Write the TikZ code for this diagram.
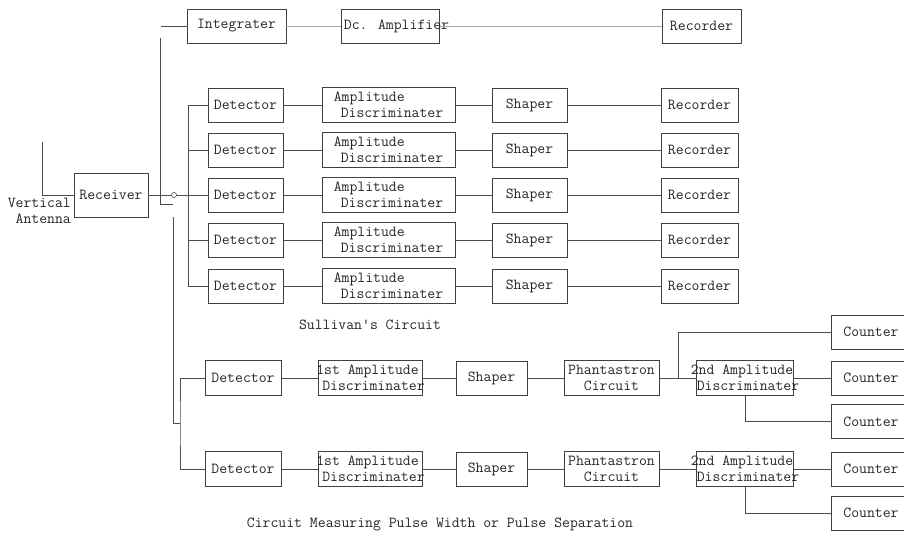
\documentclass[tikz,border=0pt]{standalone}
\usepackage{fontspec}

\tikzset{
  blk/.style={draw=black!75, line width=0.6pt, rectangle, inner sep=0pt,
    minimum height=34pt, text=black!85,
    font=\ttfamily\fontsize{15.3}{15.5}\selectfont},
  lbl/.style={inner sep=0pt, text=black!85,
    font=\ttfamily\fontsize{15.3}{15.5}\selectfont},
  wire/.style={draw=black!70, line width=0.6pt},
  faint/.style={draw=black!35, line width=0.6pt},
}

\begin{document}
\begin{tikzpicture}[x=1pt, y=-1pt]

	\clip (0,0) rectangle (904,535);
	\fill[white] (0,0) rectangle (904,535);

	% Column positions
	\def\detx{245.5}
	\def\ampx{388.5}
	\def\shpx{529.5}
	\def\recx{699.5}

	% Receiver and antenna
	\node[blk, minimum width=74pt, minimum height=44pt] (recv) at (111,195) {Receiver};
	\coordinate (ant) at (42,142);
	\draw[wire] (ant) |- (recv.west);
	\node[lbl, align=right, anchor=east] (antlbl) at (71,211) {Vertical\\Antenna};

	% Integrater line
	\node[blk, minimum width=99pt] (integ) at (236.5,26) {Integrater};
	\node[blk, minimum width=95pt, inner xsep=-9.5pt] (dcamp) at (390.5,26) {\hspace{12pt}Dc. Amplifier};
	\node[blk, minimum width=79pt] (rectop) at (701.5,26) {Recorder};
	\draw[faint] (integ) -- (dcamp) -- (rectop);

	% Switch
	\coordinate (intin) at (161,26);
	\coordinate (swtop) at (160,38);
	\coordinate (swbot) at (160,204);
	\coordinate (swtip) at (173,204);
	\coordinate (tap) at (173,217);
	\coordinate (bbus) at (180,423);
	\draw[wire] (intin) -- (integ.west);
	\draw[wire] (swtop) -- (swbot) -- (swtip);
	\draw[wire] (tap) |- (bbus);

	% Sullivan's circuit
	\foreach \i/\y in {1/105,2/150,3/195,4/240,5/286} {
		\node[blk, minimum width=75pt] (sdet\i) at (\detx,\y) {Detector};
		\node[blk, minimum width=133pt, minimum height=35pt, align=left] (samp\i) at (\ampx,\y) {Amplitude\\\hspace{7pt}Discriminater};
		\node[blk, minimum width=75pt] (sshp\i) at (\shpx,\y) {Shaper};
		\node[blk, minimum width=77pt] (srec\i) at (\recx,\y) {Recorder};
		\draw[wire] (sdet\i) -- (samp\i) -- (sshp\i) -- (srec\i);
	}
	\draw[wire] (sdet1.west) -- ++(-19,0) |- (sdet5.west);
	\draw[wire] (sdet2.west) -- ++(-19,0);
	\draw[wire] (sdet4.west) -- ++(-19,0);
	\draw[wire] (recv.east) -- (sdet3.west);
	\draw[wire, fill=white] (174,195) circle (2.5pt);
	\node[lbl] (sullcap) at (370,325) {Sullivan's Circuit};

	% Pulse width circuit
	\foreach \i/\y in {1/378,2/469} {
		\node[blk, minimum width=76pt, minimum height=35pt] (bdet\i) at (243,\y) {Detector};
		\node[blk, minimum width=103pt, minimum height=35pt, inner xsep=-2.5pt, align=left] (bamp\i) at (370.5,\y) {1st Amplitude\\\hspace{6pt}Discriminater};
		\node[blk, minimum width=71pt] (bshp\i) at (491.5,\y) {Shaper};
		\node[blk, minimum width=95pt, minimum height=35pt, align=center] (bpha\i) at (611.5,\y) {Phantastron\\Circuit};
		\node[blk, minimum width=96pt, minimum height=35pt, inner xsep=-6pt, align=left] (bsec\i) at (745,\y) {2nd Amplitude\\\hspace{6pt}Discriminater};
		\draw[wire] (bdet\i) -- (bamp\i) -- (bshp\i) -- (bpha\i) -- (bsec\i);
	}
	\draw[wire] (bdet1.west) -| (bbus) |- (bdet2.west);

	% Counters
	\foreach \i/\y in {1/332,2/378,3/421.5,4/469,5/513} {
		\node[blk, minimum width=80pt] (cnt\i) at (871,\y) {Counter};
	}
	\coordinate (bfork) at (678,378);
	\draw[wire] (bfork) |- (cnt1.west);
	\draw[wire] (bsec1.east) -- (cnt2.west);
	\draw[wire] (bsec1.south) |- (cnt3.west);
	\draw[wire] (bsec2.east) -- (cnt4.west);
	\draw[wire] (bsec2.south) |- (cnt5.west);
	\node[lbl] (meascap) at (440,524) {Circuit Measuring Pulse Width or Pulse Separation};

\end{tikzpicture}
\end{document}
